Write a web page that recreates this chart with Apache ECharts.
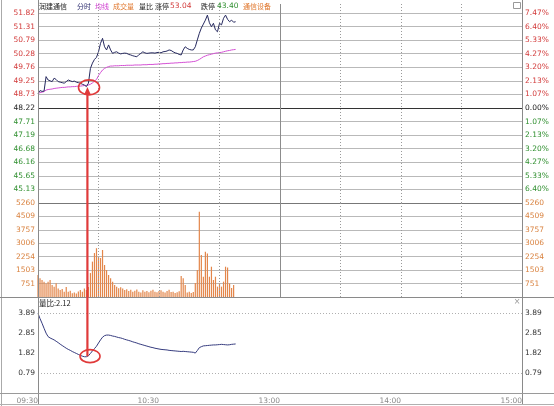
<!DOCTYPE html>
<html><head><meta charset="utf-8">
<script src="https://cdn.jsdelivr.net/npm/echarts@6/dist/echarts.min.js"></script>
<style>html,body{margin:0;padding:0;background:#fff}#c{width:554px;height:406px}</style>
</head><body><div id="c"></div>
<script>
// ---------- data (one value per minute from 09:30) ----------
const priceValues = [48.77,48.88,48.85,48.86,49.41,49.28,49.25,49.22,49.35,49.30,
49.22,49.20,49.18,49.16,49.22,49.28,49.25,49.22,49.24,49.20,
49.18,49.16,49.12,49.09,49.03,49.16,49.72,49.92,50.06,50.14,
50.35,50.67,50.86,50.54,50.42,50.61,50.42,50.29,50.33,50.35,
50.30,50.27,50.29,50.30,50.29,50.25,50.23,50.20,50.18,50.16,
50.24,50.29,50.35,50.31,50.29,50.30,50.31,50.31,50.30,50.32,
50.33,50.31,50.35,50.36,50.38,50.42,50.40,50.35,50.31,50.29,
50.25,50.23,50.42,50.54,50.48,50.44,50.42,50.42,50.54,50.80,
51.05,51.25,51.40,51.55,51.74,51.45,51.30,51.43,51.18,51.11,
51.43,51.37,51.62,51.74,51.58,51.49,51.55,51.47,51.49];
const avgValues = [48.77,48.80,48.82,48.84,48.90,48.92,48.93,48.94,48.96,48.97,
48.98,48.99,49.00,49.00,49.01,49.02,49.02,49.03,49.03,49.04,
49.05,49.05,49.06,49.07,49.08,49.09,49.12,49.17,49.24,49.30,
49.45,49.56,49.66,49.72,49.76,49.79,49.81,49.81,49.82,49.82,
49.82,49.83,49.83,49.83,49.84,49.84,49.84,49.84,49.85,49.85,
49.85,49.85,49.86,49.86,49.86,49.87,49.87,49.87,49.88,49.88,
49.89,49.89,49.90,49.90,49.91,49.91,49.92,49.92,49.93,49.93,
49.94,49.94,49.95,49.95,49.96,49.96,49.97,49.98,49.99,50.02,
50.06,50.11,50.16,50.19,50.22,50.24,50.26,50.28,50.30,50.31,
50.32,50.33,50.35,50.37,50.39,50.40,50.42,50.43,50.44];
const volumeValues = [1230,1045,950,860,760,860,950,670,580,770,
480,390,450,300,560,300,350,210,250,200,
310,390,300,480,390,560,1340,1980,2460,2730,
2250,2180,2630,1790,1510,1230,1045,860,670,580,
490,540,480,390,440,330,400,300,350,420,
300,250,380,290,330,260,350,400,300,260,
340,380,290,250,330,410,280,300,230,270,
320,1175,1045,670,250,300,220,280,780,1510,
4770,2350,1135,2535,2440,1135,1695,950,1135,580,
760,580,860,1695,1650,760,500,670];
const ratioValues = [3.87,3.60,3.36,3.10,2.85,2.67,2.60,2.55,2.50,2.43,
2.36,2.28,2.21,2.14,2.07,2.01,1.96,1.90,1.85,1.80,
1.75,1.70,1.66,1.63,1.63,1.68,1.80,1.93,2.05,2.17,
2.34,2.50,2.64,2.72,2.75,2.75,2.73,2.70,2.68,2.65,
2.62,2.60,2.57,2.53,2.50,2.47,2.44,2.40,2.37,2.34,
2.30,2.27,2.24,2.21,2.18,2.15,2.12,2.10,2.07,2.05,
2.03,2.01,2.00,1.99,1.98,1.96,1.95,1.94,1.93,1.92,
1.91,1.90,1.91,1.90,1.89,1.88,1.87,1.86,1.82,1.95,
2.10,2.15,2.19,2.20,2.21,2.22,2.23,2.24,2.24,2.25,
2.26,2.27,2.26,2.25,2.24,2.25,2.27,2.28,2.29];

// tick labels, bottom to top
const priceTickLabels = ['','45.13','45.65','46.16','46.68','47.19','47.71','48.22','48.73','49.25','49.76','50.28','50.79','51.31','51.82'];
const pctTickLabels = ['','6.40%','5.33%','4.27%','3.20%','2.13%','1.07%','0.00%','1.07%','2.13%','3.20%','4.27%','5.33%','6.40%','7.47%'];
const volTickLabels = ['','751','1503','2254','3006','3757','4509','5260'];
const ratioTickLabels = ['','0.79','1.82','2.85','3.89'];
const timeTickLabels = ['09:30','','10:30','','13:00','','14:00','','15:00'];
const halfHourMinutes = [30, 60, 90, 150, 180, 210];

const PRICE_MIN = 44.62, PRICE_STEP = 7.2/14, PRICE_MAX = 44.62 + 7.2*199/190;
const VOL_MAX = 5260, VOL_STEP = 5260/7;
const RATIO_MAX = 3.89, RATIO_STEP = 3.1/3, RATIO_MIN = 0.79 - 3.1/3;

const NUM = 'Tahoma, "DejaVu Sans", sans-serif';
const CJK = '"Noto Sans CJK SC", sans-serif';
const FS = 7.5;
const RED = '#d23a3a', GREEN = '#2f8f2f', ORANGE = '#d9823f', DARK = '#222';

function ix(v, min, step) { return Math.round((v - min) / step); }
function priceColor(v) { const i = ix(v, PRICE_MIN, PRICE_STEP); return i > 7 ? RED : (i < 7 ? GREEN : DARK); }

const chart = echarts.init(document.getElementById('c'));
const gridGray = '#b9b9b9';
const priceSplitColors = []; for (let i = 0; i < 16; i++) priceSplitColors.push(i === 7 ? '#333' : (i === 0 ? '#777' : (i === 15 ? 'rgba(0,0,0,0)' : gridGray)));
const volSplitColors = ['#777', gridGray, gridGray, gridGray, gridGray, gridGray, gridGray, 'rgba(0,0,0,0)'];
const ratioSplitColors = ['rgba(0,0,0,0)', '#b0b0b0', 'rgba(0,0,0,0)', 'rgba(0,0,0,0)', '#b0b0b0'];

function xAxisFor(g) {
  return {
    type: 'value', gridIndex: g, min: 0, max: 240, interval: 30,
    axisLine: { show: false }, axisTick: { show: false },
    axisLabel: {
      show: g === 2, align: 'right', fontSize: FS, fontFamily: NUM, color: '#8a8a8a', margin: 4,
      showMinLabel: true, showMaxLabel: true,
      formatter: v => timeTickLabels[Math.round(v / 30)] || ''
    },
    splitLine: { show: false }
  };
}
const lblBase = { fontSize: FS, fontFamily: NUM, showMinLabel: true, showMaxLabel: true };
const vGuides = {
  silent: true, symbol: 'none', label: { show: false }, animation: false,
  data: halfHourMinutes.map(m => ({ xAxis: m, lineStyle: { color: '#9a9a9a', type: [1, 2], width: 1 } }))
    .concat([{ xAxis: 120, lineStyle: { color: '#8c8c8c', type: 'solid', width: 1 } }])
};

const option = {
  animation: false,
  grid: [
    { left: 38, right: 32, top: 4, height: 199 },
    { left: 38, right: 32, top: 203, height: 94 },
    { left: 38, right: 32, top: 313, height: 80 }
  ],
  xAxis: [xAxisFor(0), xAxisFor(1), xAxisFor(2)],
  yAxis: [
    { type: 'value', gridIndex: 0, position: 'left', min: PRICE_MIN, max: PRICE_MAX, interval: PRICE_STEP,
      axisLine: { show: false }, axisTick: { show: false },
      axisLabel: Object.assign({}, lblBase, { margin: 3, formatter: v => priceTickLabels[ix(v, PRICE_MIN, PRICE_STEP)] || '', color: v => priceColor(v) }),
      splitLine: { show: true, lineStyle: { color: priceSplitColors, width: 1 } } },
    { type: 'value', gridIndex: 0, position: 'right', min: PRICE_MIN, max: PRICE_MAX, interval: PRICE_STEP,
      axisLine: { show: false }, axisTick: { show: false },
      axisLabel: Object.assign({}, lblBase, { margin: 3, formatter: v => pctTickLabels[ix(v, PRICE_MIN, PRICE_STEP)] || '', color: v => priceColor(v) }),
      splitLine: { show: false } },
    { type: 'value', gridIndex: 1, position: 'left', min: 0, max: VOL_MAX, interval: VOL_STEP,
      axisLine: { show: false }, axisTick: { show: false },
      axisLabel: Object.assign({}, lblBase, { margin: 3, color: ORANGE, formatter: v => volTickLabels[ix(v, 0, VOL_STEP)] || '' }),
      splitLine: { show: true, lineStyle: { color: volSplitColors, width: 1 } } },
    { type: 'value', gridIndex: 1, position: 'right', min: 0, max: VOL_MAX, interval: VOL_STEP,
      axisLine: { show: false }, axisTick: { show: false },
      axisLabel: Object.assign({}, lblBase, { margin: 3, color: ORANGE, formatter: v => volTickLabels[ix(v, 0, VOL_STEP)] || '' }),
      splitLine: { show: false } },
    { type: 'value', gridIndex: 2, position: 'left', min: RATIO_MIN, max: RATIO_MAX, interval: RATIO_STEP,
      axisLine: { show: false }, axisTick: { show: false },
      axisLabel: Object.assign({}, lblBase, { margin: 3, color: '#333', formatter: v => ratioTickLabels[ix(v, RATIO_MIN, RATIO_STEP)] || '' }),
      splitLine: { show: true, lineStyle: { color: ratioSplitColors, type: [1, 2], width: 1 } } },
    { type: 'value', gridIndex: 2, position: 'right', min: RATIO_MIN, max: RATIO_MAX, interval: RATIO_STEP,
      axisLine: { show: false }, axisTick: { show: false },
      axisLabel: Object.assign({}, lblBase, { margin: 3, color: '#333', formatter: v => ratioTickLabels[ix(v, RATIO_MIN, RATIO_STEP)] || '' }),
      splitLine: { show: false } }
  ],
  series: [
    { type: 'line', name: '均线', xAxisIndex: 0, yAxisIndex: 0, data: avgValues.map((v, i) => [i, v]),
      showSymbol: false, lineStyle: { color: '#d450d4', width: 1 }, silent: true, z: 3,
      markLine: vGuides },
    { type: 'line', name: '分时', xAxisIndex: 0, yAxisIndex: 0, data: priceValues.map((v, i) => [i, v]),
      showSymbol: false, lineStyle: { color: '#25285e', width: 1 }, silent: true, z: 4 },
    { type: 'bar', name: '成交量', xAxisIndex: 1, yAxisIndex: 2, data: volumeValues.map((v, i) => [i, v]),
      barWidth: 1.2, itemStyle: { color: '#e3864a' }, silent: true, z: 3,
      markLine: vGuides },
    { type: 'line', name: '量比', xAxisIndex: 2, yAxisIndex: 4, data: ratioValues.map((v, i) => [i, v]),
      showSymbol: false, lineStyle: { color: '#353b7e', width: 1 }, silent: true }
  ]
};
chart.setOption(option);

// ---------- frame, header texts and annotations ----------
const p1 = chart.convertToPixel({ gridIndex: 0 }, [25.3, 49.0]);
const pArrow = chart.convertToPixel({ gridIndex: 0 }, [24.5, 49.05]);
const p2 = chart.convertToPixel({ gridIndex: 2 }, [25.8, 1.66]);
const xl = 38.5, xr = 522.5;
function hline(y, x1, x2, c) { return { type: 'line', silent: true, z: 50, shape: { x1: x1, y1: y, x2: x2, y2: y }, style: { stroke: c, lineWidth: 1 } }; }
function vline(x, y1, y2, c) { return { type: 'line', silent: true, z: 50, shape: { x1: x, y1: y1, x2: x, y2: y2 }, style: { stroke: c, lineWidth: 1 } }; }
const HF = '7px ' + CJK;
function txt(x, y, s, c, font, align) { return { type: 'text', silent: true, z: 60, x: x, y: y, style: { text: s, fill: c, font: font || HF, textVerticalAlign: 'middle', textAlign: align || 'left' } }; }
const red = '#e03a3a';
const graphics = [
  vline(1.5, 0, 406, '#aaa'),
  vline(xl, 0, 405, '#8a8a8a'),
  vline(xr, 0, 405, '#8a8a8a'),
  hline(297.5, 0, 554, '#8a8a8a'),
  hline(393.5, 0, 554, '#9a9a9a'),
  hline(404.5, 0, 554, '#b0b0b0'),
  { type: 'rect', silent: true, z: 60, shape: { x: 513.5, y: 2.5, width: 7, height: 6 }, style: { fill: '#fff', stroke: '#999', lineWidth: 1 } },
  txt(517, 302, '×', '#999', '8px ' + NUM, 'center'),
  txt(39, 6, '润建通信', '#222'),
  txt(77, 6, '分时', '#303070'),
  txt(95, 6, '均线', '#d040d0'),
  txt(113, 6, '成交量', '#e0782f'),
  txt(139, 6, '量比', '#222'),
  txt(155, 6, '涨停', '#222'),
  txt(170, 6, '53.04', RED, FS + 'px ' + NUM),
  txt(201, 6, '跌停', '#222'),
  txt(217, 6, '43.40', GREEN, FS + 'px ' + NUM),
  txt(243, 6, '通信设备', '#e0782f'),
  txt(39, 303.5, '量比:2.12', '#222', FS + 'px ' + CJK),
  // annotations
  { type: 'ellipse', silent: true, z: 70, shape: { cx: p1[0], cy: p1[1], rx: 10.5, ry: 7.5 }, style: { fill: 'none', stroke: red, lineWidth: 1.6 } },
  { type: 'ellipse', silent: true, z: 70, shape: { cx: p2[0], cy: p2[1], rx: 10, ry: 6.5 }, style: { fill: 'none', stroke: red, lineWidth: 1.6 } },
  { type: 'line', silent: true, z: 70, shape: { x1: pArrow[0], y1: pArrow[1] + 6, x2: pArrow[0], y2: p2[1] }, style: { stroke: red, lineWidth: 2.2 } },
  { type: 'polygon', silent: true, z: 71, shape: { points: [[pArrow[0], pArrow[1] + 1], [pArrow[0] - 3.5, pArrow[1] + 9], [pArrow[0] + 3.5, pArrow[1] + 9]] }, style: { fill: red } }
];
chart.setOption({ graphic: graphics });
</script>
</body></html>
